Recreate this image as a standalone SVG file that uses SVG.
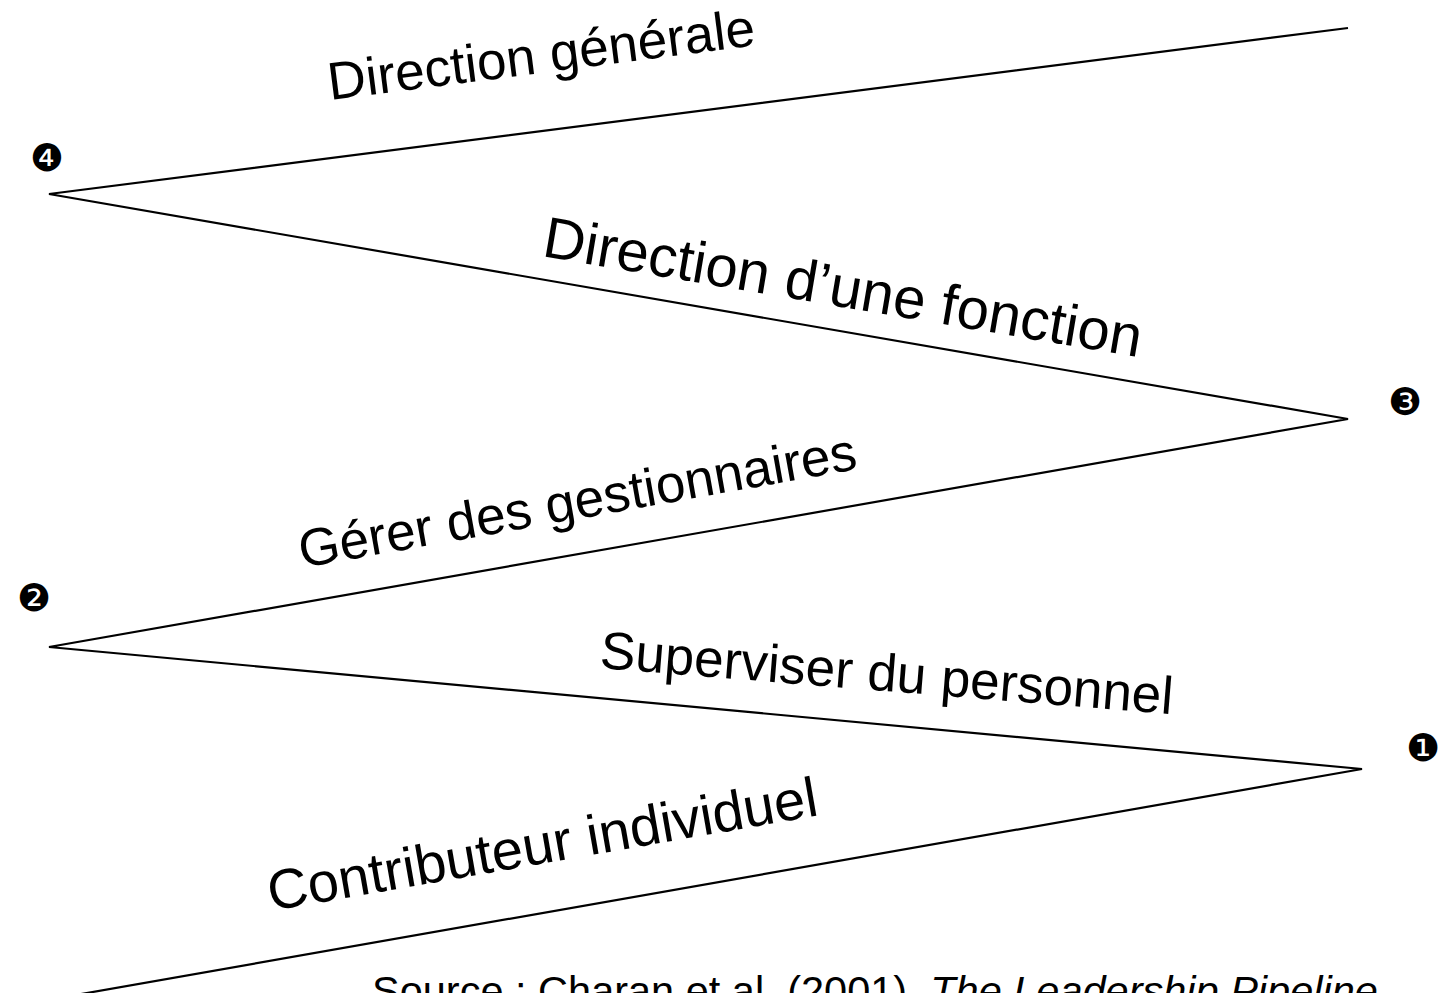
<svg xmlns="http://www.w3.org/2000/svg" width="1439" height="993" viewBox="0 0 1439 993">
<style>
.lbl{font-family:"Liberation Sans",Arial,sans-serif;fill:#000}
.num{font-family:"DejaVu Sans",sans-serif;font-size:38px;fill:#000;text-anchor:middle}
.ln{fill:none;stroke:#000;stroke-width:2.2;stroke-linejoin:miter}
</style>
<rect width="1439" height="993" fill="#fff"/>
<g id="connectors">
<polyline class="ln" points="1348,28 49,194 1348,419 49,647 1362,769 70,996"/>
</g>
<g id="level4"><text class="num" x="47" y="171">❹</text></g>
<g id="level3"><text class="num" x="1405" y="415">❸</text></g>
<g id="level2"><text class="num" x="34" y="611">❷</text></g>
<g id="level1"><text class="num" x="1423" y="761">❶</text></g>
<g id="direction-generale"><text class="lbl" font-size="53" transform="translate(330,100) rotate(-7.3)">Direction générale</text></g>
<g id="direction-fonction"><text class="lbl" font-size="58" transform="translate(541,256) rotate(9.6)">Direction d’une fonction</text></g>
<g id="gerer"><text class="lbl" font-size="53" transform="translate(302,568) rotate(-10.1)">Gérer des gestionnaires</text></g>
<g id="superviser"><text class="lbl" font-size="53" transform="translate(599,668) rotate(4.6)">Superviser du personnel</text></g>
<g id="contributeur"><text class="lbl" font-size="56" transform="translate(271,911) rotate(-9.9)">Contributeur individuel</text></g>
<g id="source"><text class="lbl" font-size="41.5" x="372" y="1005">Source : Charan et al. (2001). <tspan font-style="italic">The Leadership Pipeline</tspan></text></g>
</svg>
